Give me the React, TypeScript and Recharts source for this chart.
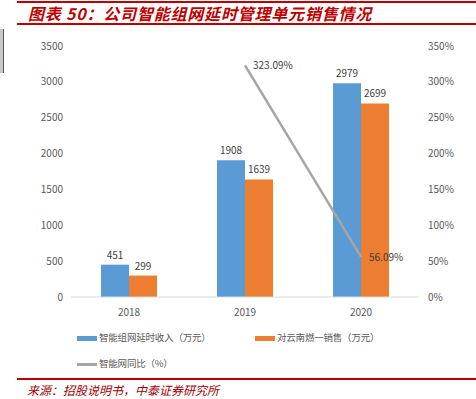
import React from "react";
import { Bar, ComposedChart, LabelList, Line, XAxis, YAxis } from "recharts";

const years = ["2018", "2019", "2020"];
const income = [451, 1908, 2979];
const sales = [299, 1639, 2699];
const yoy: (number | null)[] = [null, 323.09, 56.09];
const leftTicks = [0, 500, 1000, 1500, 2000, 2500, 3000, 3500];
const rightTicks = [0, 50, 100, 150, 200, 250, 300, 350];

const names = ["智能组网延时收入（万元）", "对云南燃一销售（万元）", "智能网同比（%）"];
const BLUE = "#5b9bd5";
const ORANGE = "#ed7d31";
const GREY = "#a5a5a5";
const RED = "#c00000";
const FONT = "'Noto Sans CJK SC', 'Noto Sans', sans-serif";

const data = years.map((y, i) => ({ year: y, income: income[i], sales: sales[i], yoy: yoy[i] }));

const tick = { fontSize: 10, fill: "#595959", fontFamily: FONT };

function PctLabel(props: any) {
  const { x, y, value } = props;
  if (value == null) return null;
  return (
    <text x={x + 8} y={y + 4} fontSize={10} fill="#404040" fontFamily={FONT}>
      {value.toFixed(2)}%
    </text>
  );
}

function Swatch({ color, line }: { color: string; line?: boolean }) {
  return (
    <span
      style={{
        display: "inline-block",
        width: 20,
        height: line ? 3 : 5,
        background: color,
        marginRight: 2,
        verticalAlign: "middle",
      }}
    />
  );
}

const legendText = {
  position: "absolute" as const,
  fontSize: 9.5,
  letterSpacing: -0.2,
  color: "#595959",
  whiteSpace: "nowrap" as const,
  lineHeight: "16px",
};

export default function App() {
  return (
    <div style={{ position: "absolute", left: 0, top: 0, width: 476, height: 399, background: "#fff", fontFamily: FONT }}>
      <div style={{ position: "absolute", left: 17, top: 1, width: 459, height: 2, background: RED }} />
      <div
        style={{
          position: "absolute",
          left: 28,
          top: 2,
          fontSize: 16,
          fontWeight: 700,
          fontStyle: "italic",
          color: RED,
          letterSpacing: 0.8,
          lineHeight: "22px",
          whiteSpace: "nowrap",
        }}
      >
        图表 50：公司智能组网延时管理单元销售情况
      </div>
      <div style={{ position: "absolute", left: 17, top: 23, width: 459, height: 2, background: RED }} />
      <div style={{ position: "absolute", left: 0, top: 29, width: 3, height: 44, background: "#c8c8c8", borderRight: "1px solid #555" }} />

      <div style={{ position: "absolute", left: 0, top: 0 }}>
        <ComposedChart width={476} height={320} data={data} margin={{ top: 46, right: 0, bottom: 0, left: 0 }} barGap={0}>
          <XAxis
            dataKey="year"
            height={23}
            tick={tick}
            tickLine={false}
            axisLine={{ stroke: "#d9d9d9" }}
            tickMargin={6}
          />
          <YAxis
            yAxisId="l"
            width={71}
            domain={[0, 3500]}
            ticks={leftTicks}
            tick={tick}
            tickLine={false}
            axisLine={false}
            tickSize={0}
            tickMargin={8}
          />
          <YAxis
            yAxisId="r"
            orientation="right"
            width={57}
            domain={[0, 350]}
            ticks={rightTicks}
            tickFormatter={(v) => `${v}%`}
            tick={{ ...tick, textAnchor: "start" }}
            tickLine={false}
            axisLine={false}
            tickSize={0}
            tickMargin={9}
          />
          <Bar yAxisId="l" dataKey="income" fill={BLUE} barSize={28} isAnimationActive={false}>
            <LabelList dataKey="income" position="top" offset={6} style={{ fontSize: 10, fill: "#404040", fontFamily: FONT }} />
          </Bar>
          <Bar yAxisId="l" dataKey="sales" fill={ORANGE} barSize={28} isAnimationActive={false}>
            <LabelList dataKey="sales" position="top" offset={6} style={{ fontSize: 10, fill: "#404040", fontFamily: FONT }} />
          </Bar>
          <Line
            yAxisId="r"
            dataKey="yoy"
            stroke={GREY}
            strokeWidth={2.5}
            dot={false}
            isAnimationActive={false}
            label={<PctLabel />}
          />
        </ComposedChart>
      </div>

      <div style={{ ...legendText, left: 77, top: 329 }}>
        <Swatch color={BLUE} />
        {names[0]}
      </div>
      <div style={{ ...legendText, left: 255, top: 329 }}>
        <Swatch color={ORANGE} />
        {names[1]}
      </div>
      <div style={{ ...legendText, left: 77, top: 355 }}>
        <Swatch color={GREY} line />
        {names[2]}
      </div>

      <div style={{ position: "absolute", left: 17, top: 378, width: 459, height: 2, background: RED }} />
      <div
        style={{
          position: "absolute",
          left: 27,
          top: 383,
          fontSize: 12,
          fontStyle: "italic",
          color: "#a00000",
          whiteSpace: "nowrap",
          lineHeight: "14px",
        }}
      >
        来源：招股说明书，中泰证券研究所
      </div>
    </div>
  );
}
